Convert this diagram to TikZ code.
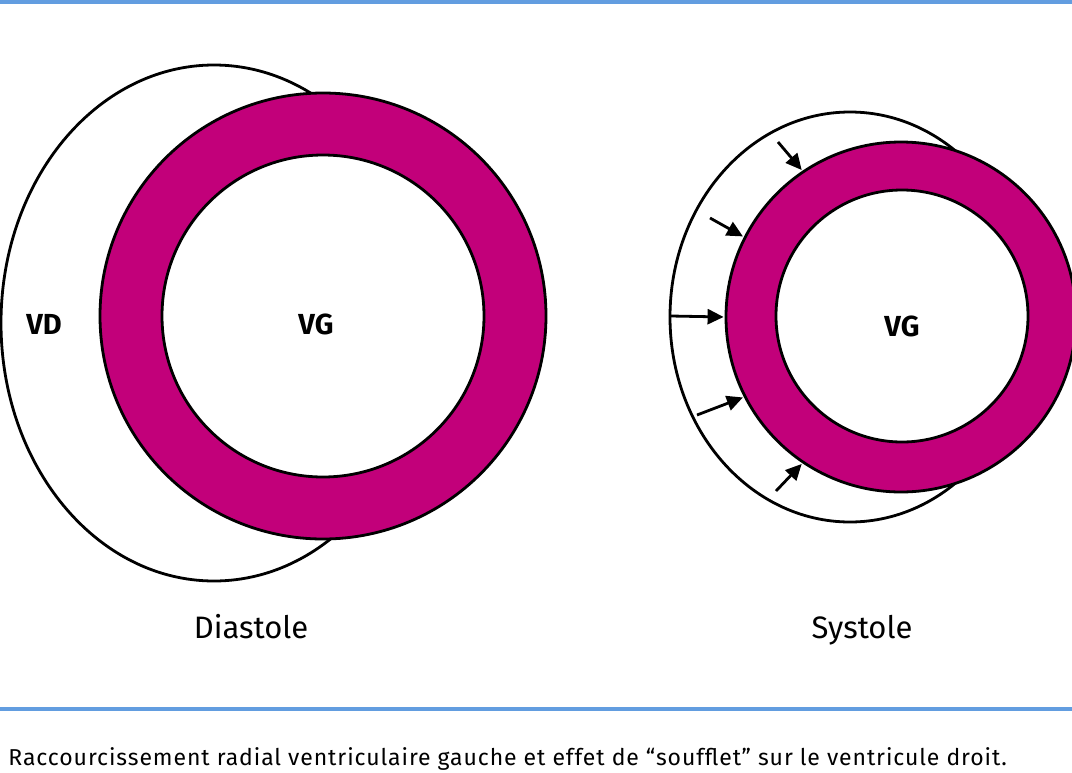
\documentclass[tikz,border=0pt]{standalone}
\usepackage{fontspec}
\setmainfont{Fira Sans}
\usepackage{tikz}
\usetikzlibrary{arrows.meta}
\definecolor{wallcol}{RGB}{194,0,122}
\definecolor{rulecol}{RGB}{98,157,224}

\begin{document}
\begin{tikzpicture}[x=0.5pt, y=-0.5pt, line width=1.4pt,
    wall/.style={shape=circle, draw=black, fill=wallcol, inner sep=0pt},
    cavity/.style={shape=circle, draw=black, fill=white, inner sep=0pt},
    push/.style={-{Triangle[length=8pt, width=7.5pt]}, shorten >=0.5pt}]
            \useasboundingbox (0,0) rectangle (1072,772);
            \draw[rulecol, line width=2pt] (0,2) -- (1072,2);
            \draw[rulecol, line width=2pt] (0,708.5) -- (1072,708.5);

            % diastole
            \draw (214,323) ellipse [x radius=213, y radius=258];
            \node[wall, minimum size=223pt] (VGd) at (323,316) {};
            \node[cavity, minimum size=161pt] (Cd) at (323,316) {};
            \node[font=\bfseries\fontsize{14.5}{16}\selectfont] (VDd) at (44,324) {VD};
            \node[font=\bfseries\fontsize{14.5}{16}\selectfont] (Ld) at (316,324) {VG};
            \node[font=\fontsize{15.5}{18}\selectfont, anchor=base] (D) at (251,638) {Diastole};

            % systole
            \draw (850,317) ellipse [x radius=180, y radius=205];
            \node[wall, minimum size=175pt] (VGs) at (901,317) {};
            \node[cavity, minimum size=126pt] (Cs) at (902,316) {};
            \node[font=\bfseries\fontsize{14.5}{16}\selectfont] (Ls) at (902,326) {VG};
            \node[font=\fontsize{15.5}{18}\selectfont, anchor=base] (S) at (862,638) {Systole};

            \coordinate (p1) at (778,142);
            \coordinate (p2) at (710,218);
            \coordinate (p3) at (671,316);
            \coordinate (p4) at (697,415);
            \coordinate (p5) at (776,491);
            \draw[push] (p1) -- (VGs.124);
            \draw[push] (p2) -- (VGs.153);
            \draw[push] (p3) -- (VGs.180);
            \draw[push] (p4) -- (VGs.207);
            \draw[push] (p5) -- (VGs.236);

            \node[font=\fontsize{11.5}{13}\selectfont\addfontfeatures{LetterSpace=4}, anchor=base west, inner sep=0pt] (T) at (7,765) {Raccourcissement radial ventriculaire gauche et effet de “soufflet” sur le ventricule droit.};
        \end{tikzpicture}
\end{document}
